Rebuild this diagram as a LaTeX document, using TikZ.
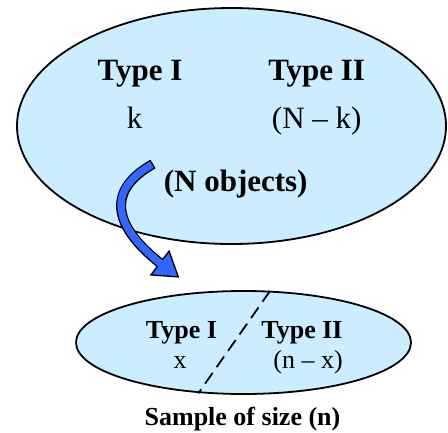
\documentclass[tikz,border=0pt]{standalone}
\usepackage{fontspec}
\setmainfont{Liberation Serif}
\usetikzlibrary{shapes.geometric}
\definecolor{skyfill}{HTML}{CCECFF}
\definecolor{arrowblue}{HTML}{3366FF}

\begin{document}
\begin{tikzpicture}[x=1pt, y=-1pt, line width=1.8pt,
	blob/.style={ellipse, draw, fill=skyfill, inner sep=0pt},
	bigtext/.style={font=\fontsize{31}{36}\selectfont, inner sep=0pt, anchor=base},
	smalltext/.style={font=\fontsize{26}{30}\selectfont, inner sep=0pt, anchor=base}]
			\useasboundingbox (0,0) rectangle (448,432);
			\node[blob, minimum width=429pt, minimum height=236pt] (pop) at (231.5,126) {};
			\node[blob, minimum width=335pt, minimum height=103pt] (sample) at (243.5,342.5) {};
			\draw[dash pattern=on 13pt off 7pt] (270,291) -- (198.3,393.3);
			\node[bigtext] (typeI) at (140,80) {\textbf{Type I}};
			\node[bigtext] (typeII) at (316.7,80) {\textbf{Type II}};
			\node[bigtext] (k) at (134.7,128) {k};
			\node[bigtext] (Nk) at (316.7,128) {(N -- k)};
			\node[bigtext] (Nobj) at (235.7,191.5) {\textbf{(N objects)}};
			\node[smalltext] (sTypeI) at (181.5,338.3) {\textbf{Type I}};
			\node[smalltext] (sTypeII) at (302,338.3) {\textbf{Type II}};
			\node[smalltext] (x) at (180,368) {x};
			\node[smalltext] (nx) at (308,368) {(n -- x)};
			\node[smalltext] (size) at (242.5,425) {\textbf{Sample of size (n)}};
			\coordinate (tail) at (153,164);
			\coordinate (tip) at (160,263);
			\fill[arrowblue, draw=black, line width=1.3pt] (178.3,276.9) -- (150.9,274.9) -- (169.1,251.1) -- cycle;
			\draw[line width=10pt] (tail) .. controls (107,190) and (112,225) .. (tip);
			\draw[arrowblue, line width=7.4pt, shorten <=1.3pt, shorten >=-1.6pt] (tail) .. controls (107,190) and (112,225) .. (tip);
	\end{tikzpicture}
\end{document}
